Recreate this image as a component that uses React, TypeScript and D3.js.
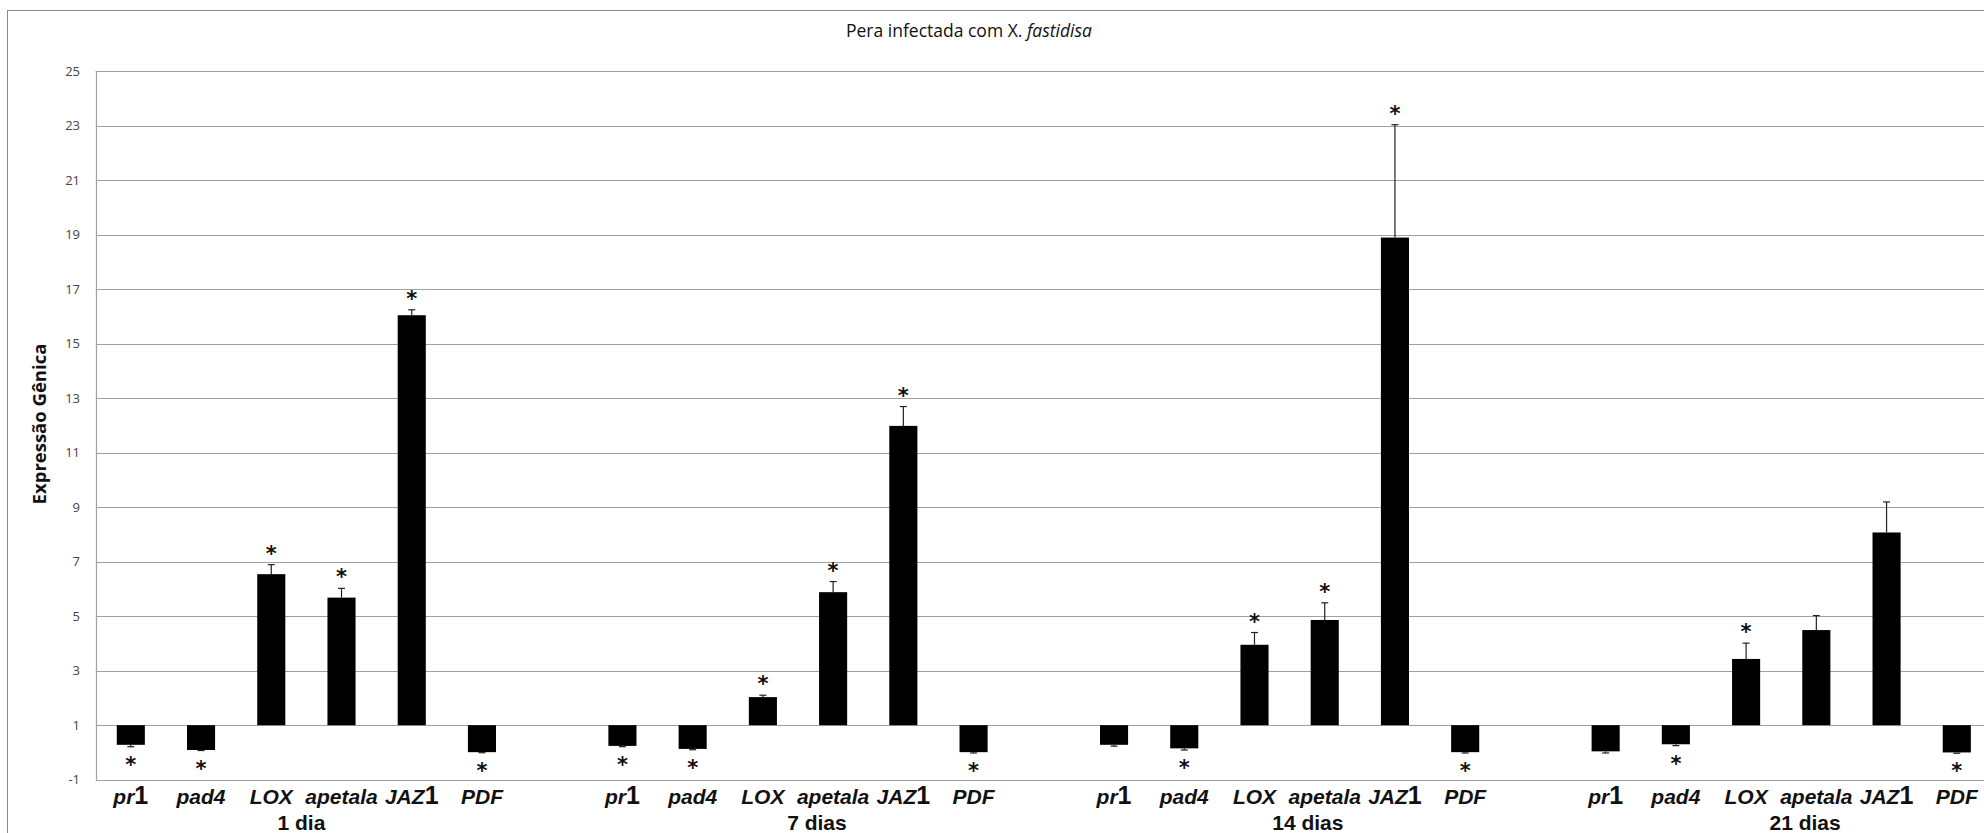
import React from "react";
import * as d3 from "d3";

const genes = ["pr1", "pad4", "LOX", "apetala", "JAZ1", "PDF"];
const groups = ["1 dia", "7 dias", "14 dias", "21 dias"];

const values1 = [0.28, 0.09, 6.54, 5.68, 16.04, 0.01];
const values7 = [0.24, 0.13, 2.03, 5.88, 11.98, 0.01];
const values14 = [0.28, 0.15, 3.95, 4.86, 18.89, 0.01];
const values21 = [0.04, 0.3, 3.43, 4.49, 8.07, 0.0];

const errors1 = [0.07, 0.02, 0.35, 0.34, 0.2, 0.02];
const errors7 = [0.03, 0.03, 0.07, 0.39, 0.71, 0.03];
const errors14 = [0.05, 0.06, 0.45, 0.63, 4.14, 0.03];
const errors21 = [0.06, 0.05, 0.58, 0.53, 1.12, 0.03];

const signif1 = [true, true, true, true, true, true];
const signif7 = [true, true, true, true, true, true];
const signif14 = [false, true, true, true, true, true];
const signif21 = [false, true, true, false, false, true];

const yTicks = [-1, 1, 3, 5, 7, 9, 11, 13, 15, 17, 19, 21, 23, 25];

const title = "Pera infectada com ";
const titleItalicPrefix = "X. ";
const titleItalic = "fastidisa";
const yTitle = "Expressão Gênica";

const allValues = [values1, values7, values14, values21];
const allErrors = [errors1, errors7, errors14, errors21];
const allSignif = [signif1, signif7, signif14, signif21];

const W = 1984;
const H = 833;
const BASE = 1;
const nCats = groups.length * (genes.length + 1) - 1;

export default function App() {
  const step = 70.23;
  const x0 = 95.7;
  const x = d3
    .scaleBand<number>()
    .domain(d3.range(nCats))
    .range([x0, x0 + nCats * step])
    .paddingInner(0.6)
    .paddingOuter(0.3);
  const y = d3.scaleLinear().domain([-1, 25]).range([779.7, 71]);

  const bars: any[] = [];
  groups.forEach((g, gi) => {
    genes.forEach((gene, i) => {
      const idx = gi * (genes.length + 1) + i;
      bars.push({
        idx,
        gene,
        v: allValues[gi][i],
        e: allErrors[gi][i],
        s: allSignif[gi][i],
      });
    });
  });

  const groupLabelPos = [2.43, 2.77, 2.76, 2.84];
  const labelFont = "'Liberation Sans', Arial, sans-serif";

  const renderGene = (gene: string) => {
    const m = gene.match(/^(.*?)(1)$/);
    if (m && (gene === "pr1" || gene === "JAZ1")) {
      return (
        <>
          <tspan fontStyle="italic">{m[1]}</tspan>
          <tspan fontStyle="normal" fontSize={25}>
            {m[2]}
          </tspan>
        </>
      );
    }
    return <tspan fontStyle="italic">{gene}</tspan>;
  };

  return (
    <svg
      width={W}
      height={H}
      style={{ position: "absolute", left: 0, top: 0, background: "#fff" }}
    >
      <rect x={0} y={0} width={W} height={H} fill="#fff" />
      <rect
        x={7.5}
        y={10.5}
        width={W + 20}
        height={H + 20}
        fill="none"
        stroke="#8a8a8a"
        strokeWidth={1}
      />
      <text
        x={969}
        y={37}
        textAnchor="middle"
        fontFamily="'Open Sans', sans-serif"
        fontSize={17.5}
        fill="#111"
      >
        {title}
        {titleItalicPrefix}
        <tspan fontStyle="italic">{titleItalic}</tspan>
      </text>

      {/* gridlines */}
      {yTicks.map((t) => (
        <line
          key={t}
          x1={x0}
          x2={W + 10}
          y1={Math.round(y(t)) + 0.5}
          y2={Math.round(y(t)) + 0.5}
          stroke="#a0a0a0"
          strokeWidth={1.2}
        />
      ))}
      <line
        x1={Math.round(x0) + 0.5}
        x2={Math.round(x0) + 0.5}
        y1={y(25)}
        y2={y(-1)}
        stroke="#a0a0a0"
        strokeWidth={1.2}
      />
      {yTicks.map((t) => (
        <text
          key={"l" + t}
          x={80}
          y={y(t)}
          dy="0.35em"
          textAnchor="end"
          fontFamily="'Open Sans', sans-serif"
          fontSize={13}
          fill="#444"
        >
          {t}
        </text>
      ))}
      <text
        transform={`translate(40,424) rotate(-90)`}
        textAnchor="middle"
        dy="0.35em"
        fontFamily="'Open Sans', sans-serif"
        fontWeight="bold"
        fontSize={18.5}
        fill="#111"
      >
        {yTitle}
      </text>

      {/* bars */}
      {bars.map((b) => {
        const bx = x(b.idx)!;
        const bw = x.bandwidth();
        const top = y(Math.max(b.v, BASE));
        const bot = y(Math.min(b.v, BASE));
        return (
          <rect key={"b" + b.idx} x={bx} y={top} width={bw} height={bot - top} fill="#000" />
        );
      })}

      {/* error bars */}
      {bars.map((b) => {
        const cx = x(b.idx)! + x.bandwidth() / 2;
        const dir = b.v >= BASE ? 1 : -1;
        const ye0 = y(b.v);
        const ye1 = y(b.v + dir * b.e);
        return (
          <g key={"e" + b.idx} stroke="#222" strokeWidth={1.2}>
            <line x1={cx} x2={cx} y1={ye0} y2={ye1} />
            <line x1={cx - 3.5} x2={cx + 3.5} y1={ye1} y2={ye1} />
          </g>
        );
      })}

      {/* significance asterisks */}
      {bars
        .filter((b) => b.s)
        .map((b) => {
          const cx = x(b.idx)! + x.bandwidth() / 2;
          const pos = b.v >= BASE;
          const edge = y(b.v + (pos ? 1 : -1) * b.e);
          const cy = pos ? edge - 15 : edge + 14;
          return (
            <text
              key={"s" + b.idx}
              x={cx}
              y={cy + 11}
              textAnchor="middle"
              fontFamily="'DejaVu Sans', sans-serif"
              fontWeight="bold"
              fontSize={21}
              fill="#111"
            >
              *
            </text>
          );
        })}

      {/* category labels */}
      {bars.map((b) => (
        <text
          key={"c" + b.idx}
          x={x(b.idx)! + x.bandwidth() / 2}
          y={804}
          textAnchor="middle"
          fontFamily={labelFont}
          fontWeight="bold"
          fontSize={21}
          fill="#111"
        >
          {renderGene(b.gene)}
        </text>
      ))}
      {groups.map((g, gi) => {
        const base = gi * (genes.length + 1);
        const cx = x(base)! + x.bandwidth() / 2 + groupLabelPos[gi] * x.step();
        return (
          <text
            key={"g" + gi}
            x={cx}
            y={830}
            textAnchor="middle"
            fontFamily={labelFont}
            fontWeight="bold"
            fontSize={21}
            fill="#111"
          >
            {g}
          </text>
        );
      })}
    </svg>
  );
}
